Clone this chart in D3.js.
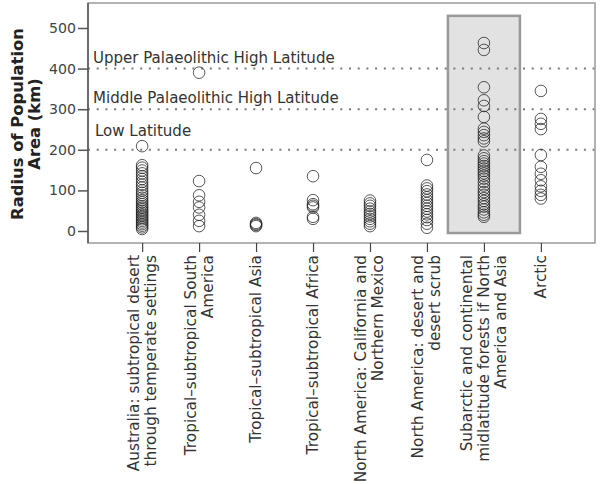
<!DOCTYPE html>
<html><head><meta charset="utf-8">
<script src="https://cdn.jsdelivr.net/npm/d3@7"></script>
<style>body{margin:0;background:#fff}svg{display:block}text{font-family:"DejaVu Sans",sans-serif}</style>
</head><body><svg id="c" width="600" height="484"></svg>
<script>
const categories = [
  ["Australia: subtropical desert", "through temperate settings"],
  ["Tropical–subtropical South", "America"],
  ["Tropical–subtropical Asia"],
  ["Tropical–subtropical Africa"],
  ["North America: California and", "Northern Mexico"],
  ["North America: desert and", "desert scrub"],
  ["Subarctic and continental", "midlatitude forests if North", "America and Asia"],
  ["Arctic"]
];
const australia = [209,162,156,149,142,135,128,121,114,107,100,94,88,82,76,71,66,61,57,53,49,45,41,37,33,29,25,21,17,13,9,5];
const southAmerica = [390,123,88,72,58,40,25,12];
const asia = [155,20,17,15,12];
const africa = [135,76,66,62,58,35,30];
const california = [75,68,62,55,48,42,36,30,24,18,12];
const desertScrub = [175,112,105,98,90,83,76,69,62,55,48,41,34,27,18,8];
const subarctic = [463,446,354,322,308,281,252,244,236,228,221,186,179,172,166,160,154,148,142,136,129,121,112,104,96,89,81,74,66,60,53,46,40,35];
const arctic = [345,276,264,251,187,158,141,125,110,99,89,80];
const seriesValues = [australia, southAmerica, asia, africa, california, desertScrub, subarctic, arctic];
const yTicks = [0,100,200,300,400,500];
const refLines = [
  {value:400, label:"Upper Palaeolithic High Latitude"},
  {value:300, label:"Middle Palaeolithic High Latitude"},
  {value:200, label:"Low Latitude"}
];
const highlightIndex = 6;
const highlightRange = [-5, 530];

const svg = d3.select("#c");
const L = 88, R = 595, T = 3, B = 243;
const x = d3.scalePoint().domain(d3.range(categories.length)).range([L, R]).padding(0.95);
const y = d3.scaleLinear().domain([0, 500]).range([231, 28]);

// font size fitted so a sample string reaches a target width
function fitSize(sample, target, weight) {
  const t = svg.append("text").attr("font-size", 20).attr("font-weight", weight || "normal").text(sample);
  const w = t.node().getComputedTextLength();
  t.remove();
  return 20 * target / w;
}
const labelSize = fitSize("Tropical–subtropical Asia", 188);
const refSize = fitSize("Upper Palaeolithic High Latitude", 242);
const tickSize = fitSize("500", 27);
const titleSize = fitSize("Radius of Population", 192, "bold");

// highlight box
svg.append("rect")
  .attr("x", x(highlightIndex) - 36).attr("width", 72)
  .attr("y", y(highlightRange[1])).attr("height", y(highlightRange[0]) - y(highlightRange[1]))
  .attr("fill", "#e2e2e2").attr("stroke", "#999").attr("stroke-width", 2.5);

// reference lines
refLines.forEach(r => {
  svg.append("line").attr("x1", L).attr("x2", R).attr("y1", y(r.value)).attr("y2", y(r.value))
    .attr("stroke", "#7a7a7a").attr("stroke-width", 2).attr("stroke-dasharray", "2,6.7");
});
svg.append("text").attr("x", 93).attr("y", y(400) - 6).attr("font-size", refSize).attr("fill", "#333").text(refLines[0].label);
svg.append("text").attr("x", 93).attr("y", y(300) - 6).attr("font-size", refSize).attr("fill", "#333").text(refLines[1].label);
svg.append("text").attr("x", 95).attr("y", y(200) - 14).attr("font-size", refSize).attr("fill", "#333").text(refLines[2].label);

// frame
svg.append("rect").attr("x", L).attr("y", T).attr("width", R - L).attr("height", B - T)
  .attr("fill", "none").attr("stroke", "#999").attr("stroke-width", 1.5);
svg.append("line").attr("x1", L).attr("x2", L).attr("y1", T).attr("y2", B).attr("stroke", "#555").attr("stroke-width", 1.5);

// points
seriesValues.forEach((vals, i) => {
  svg.append("g").selectAll("circle").data(vals).join("circle")
    .attr("cx", x(i)).attr("cy", d => y(d)).attr("r", 5.8)
    .attr("fill", "none").attr("stroke", "#222").attr("stroke-opacity", 0.75).attr("stroke-width", 1);
});

// y axis
const yAxis = svg.append("g").attr("transform", `translate(${L},0)`)
  .call(d3.axisLeft(y).tickValues(yTicks).tickSize(10).tickPadding(2));
yAxis.select(".domain").remove();
yAxis.selectAll("line").attr("stroke", "#555").attr("stroke-width", 1.5);
yAxis.selectAll("text").attr("font-size", tickSize).attr("fill", "#444").attr("font-family", "'DejaVu Sans',sans-serif");

// x axis ticks
const xAxis = svg.append("g").attr("transform", `translate(0,${B})`)
  .call(d3.axisBottom(x).tickSize(9).tickFormat(""));
xAxis.select(".domain").remove();
xAxis.selectAll("line").attr("stroke", "#444").attr("stroke-width", 1.2);

// x labels
categories.forEach((lines, i) => {
  const t = svg.append("text").attr("transform", `translate(${x(i)},255) rotate(-90)`)
    .attr("text-anchor", "end").attr("font-size", labelSize).attr("fill", "#333");
  const n = lines.length;
  lines.forEach((ln, j) => {
    t.append("tspan").attr("x", 0).attr("y", (j - (n - 1) / 2) * 17 + 5).text(ln);
  });
});

// y title
const yt = svg.append("text").attr("transform", `translate(25,124) rotate(-90)`)
  .attr("text-anchor", "middle").attr("font-size", titleSize).attr("font-weight", "bold").attr("fill", "#222");
yt.append("tspan").attr("x", 0).attr("y", -2).text("Radius of Population");
yt.append("tspan").attr("x", 0).attr("y", 15).text("Area (km)");
</script></body></html>
